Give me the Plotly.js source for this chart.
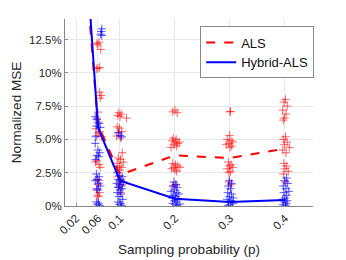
<!DOCTYPE html>
<html>
<head>
<meta charset="utf-8">
<script src="https://cdn.plot.ly/plotly-3.0.1.min.js"></script>
<style>
html,body{margin:0;padding:0;background:#fff;}
#chart{width:346px;height:260px;}
</style>
</head>
<body>
<div id="chart"></div>
<script>
// Sampling probabilities and mean normalized MSE (%)
const pVals = [0.02, 0.06, 0.1, 0.2, 0.3, 0.4];
const alsMean = [27, 6.1, 2.35, 3.8, 3.6, 4.3];
const hybMean = [30, 5.9, 1.9, 0.55, 0.3, 0.45];

// Individual trials (x includes visual jitter), MSE in %
const alsX = [
  0.058,0.062,0.060,0.065,0.060,0.057,0.063,0.063,0.066,0.064,0.060,0.058,0.056,0.061,0.058,0.063,0.066,0.058,0.062,0.055,0.064,0.058,0.062,0.060,0.057,0.063,0.059,0.061,
  0.098,0.102,0.100,0.112,0.096,0.095,0.099,0.103,0.097,0.094,0.101,0.104,0.097,0.101,0.106,0.095,0.099,0.103,0.100,0.096,0.102,0.099,0.104,0.097,0.101,
  0.200,0.196,0.204,0.197,0.202,0.195,0.200,0.205,0.198,0.203,0.193,0.208,0.196,0.201,0.205,0.198,0.194,0.200,0.203,0.209,0.201,0.198,
  0.300,0.301,0.299,0.295,0.302,0.305,0.298,0.293,0.303,0.300,0.297,0.302,0.299,0.305,0.295,0.301,0.298,0.298,0.302,
  0.401,0.398,0.404,0.396,0.402,0.399,0.397,0.401,0.397,0.404,0.399,0.408,0.396,0.402,0.398,0.403,0.400,0.406,0.397,0.401
];
const alsY = [
  12.2,12.3,12.1,11.75,10.35,10.3,10.4,8.55,8.3,8.1,7.05,6.6,5.8,5.5,5.3,5.6,5.2,3.4,3.1,3.3,2.9,2.0,1.9,1.6,1.2,1.0,0.8,0.7,
  7.0,6.9,6.7,6.6,6.8,5.95,5.85,5.6,5.5,5.25,5.1,4.0,3.6,3.5,3.3,3.2,3.0,2.9,2.7,2.2,2.0,1.8,1.6,1.4,1.0,
  7.2,7.07,7.0,5.1,5.0,4.9,4.8,4.7,4.6,4.5,4.4,4.8,3.2,3.1,3.0,2.9,2.8,2.7,2.6,2.9,1.6,1.5,
  7.07,7.1,5.3,5.0,4.9,4.8,4.7,4.6,4.5,4.4,3.3,3.1,3.0,2.9,2.8,2.6,2.5,1.8,1.6,
  8.0,7.8,7.5,7.2,6.9,6.6,6.45,5.2,5.0,4.8,4.6,4.4,4.2,4.0,3.2,3.0,2.8,2.6,2.4,1.8
];
const hybX = [
  0.067,0.066,0.065,0.067,0.055,0.058,0.060,0.062,0.057,0.064,0.056,0.055,0.060,0.063,0.058,0.061,0.056,0.057,0.062,0.059,0.055,0.061,0.064,0.058,0.060,0.057,0.061,0.059,0.063,
  0.097,0.100,0.103,0.095,0.099,0.104,0.097,0.101,0.106,0.094,0.099,0.102,0.097,0.104,0.100,0.095,0.102,0.098,0.105,0.096,0.101,0.099,0.103,
  0.198,0.202,0.196,0.204,0.199,0.193,0.203,0.207,0.197,0.201,0.195,0.205,0.199,0.202,0.196,0.200,0.204,0.209,
  0.299,0.303,0.297,0.301,0.296,0.303,0.299,0.295,0.302,0.298,0.305,0.300,0.297,0.306,
  0.403,0.399,0.405,0.397,0.402,0.407,0.398,0.403,0.400,0.396,0.404,0.399,0.402,0.397,0.401
];
const hybY = [
  13.3,13.1,12.9,12.8,6.7,6.5,6.3,6.2,6.0,5.9,5.2,4.7,4.2,4.0,3.8,3.7,3.5,2.4,2.2,2.0,1.9,1.7,1.5,1.3,1.2,0.3,0.2,0.1,0.05,
  5.5,5.3,5.2,2.5,2.3,2.2,2.0,1.9,1.8,1.7,1.6,1.5,1.4,1.3,1.2,1.0,0.9,0.7,0.5,0.3,0.2,0.1,0.05,
  1.8,1.6,1.5,1.4,1.2,1.1,1.0,0.9,0.8,0.7,0.6,0.5,0.4,0.3,0.2,0.1,0.05,0.15,
  1.9,1.7,1.5,1.3,1.0,0.9,0.7,0.5,0.4,0.3,0.2,0.1,0.05,0.6,
  2.1,1.9,1.7,1.5,1.3,1.1,1.0,0.8,0.6,0.5,0.4,0.3,0.2,0.1,0.05
];

const xTickVals = [0.02, 0.06, 0.1, 0.2, 0.3, 0.4];
const xTickText = ['0.02', '0.06', '0.1', '0.2', '0.3', '0.4'];
const yTickVals = [0, 2.5, 5, 7.5, 10, 12.5];
const yTickText = ['0%', '2.5%', '5.0%', '7.5%', '10%', '12.5%'];

const FONT = 'Liberation Sans, Arial, Helvetica, sans-serif';

const traces = [
  {x: alsX, y: alsY, type: 'scatter', mode: 'markers', showlegend: false, hoverinfo: 'skip',
   marker: {symbol: 'cross-thin', size: 6, color: 'rgba(255,0,0,0.6)', line: {width: 1, color: 'rgba(255,0,0,0.6)'}}},
  {x: hybX, y: hybY, type: 'scatter', mode: 'markers', showlegend: false, hoverinfo: 'skip',
   marker: {symbol: 'cross-thin', size: 6, color: 'rgba(0,0,255,0.65)', line: {width: 1, color: 'rgba(0,0,255,0.65)'}}},
  {x: pVals, y: alsMean, type: 'scatter', mode: 'lines', name: 'ALS',
   line: {color: '#ff0000', width: 2, dash: 'dash'}},
  {x: pVals, y: hybMean, type: 'scatter', mode: 'lines', name: 'Hybrid-ALS',
   line: {color: '#0000ff', width: 2}}
];

const layout = {
  width: 346, height: 260,
  margin: {l: 65, r: 33, t: 19, b: 54},
  paper_bgcolor: '#ffffff', plot_bgcolor: '#ffffff',
  font: {family: FONT, color: '#262626', size: 11.5},
  showlegend: true,
  legend: {
    x: 0.775, xanchor: 'center', y: 0.96, yanchor: 'top',
    bgcolor: '#ffffff', bordercolor: '#888888', borderwidth: 1,
    font: {family: FONT, size: 13, color: '#111111'},
    itemwidth: 30, tracegroupgap: 0
  },
  xaxis: {
    range: [0, 0.451],
    tickvals: xTickVals, ticktext: xTickText, tickangle: -45,
    showgrid: true, gridcolor: '#e8e8e8', gridwidth: 1, zeroline: false,
    showline: true, linecolor: '#888888', linewidth: 1,
    ticks: 'inside', ticklen: 3, tickcolor: '#888888',
    tickfont: {family: FONT, size: 11.5, color: '#262626'},
    title: {text: 'Sampling probability (p)', font: {family: FONT, size: 13.5, color: '#262626'}, standoff: 9}
  },
  yaxis: {
    range: [0, 14.04],
    tickvals: yTickVals, ticktext: yTickText,
    showgrid: true, gridcolor: '#e8e8e8', gridwidth: 1, zeroline: false,
    showline: true, linecolor: '#888888', linewidth: 1,
    ticks: 'inside', ticklen: 3, tickcolor: '#888888',
    tickfont: {family: FONT, size: 11.5, color: '#262626'},
    title: {text: 'Normalized MSE', font: {family: FONT, size: 13.5, color: '#262626'}, standoff: 4}
  }
};

Plotly.newPlot('chart', traces, layout, {staticPlot: true, displayModeBar: false});
</script>
</body>
</html>
